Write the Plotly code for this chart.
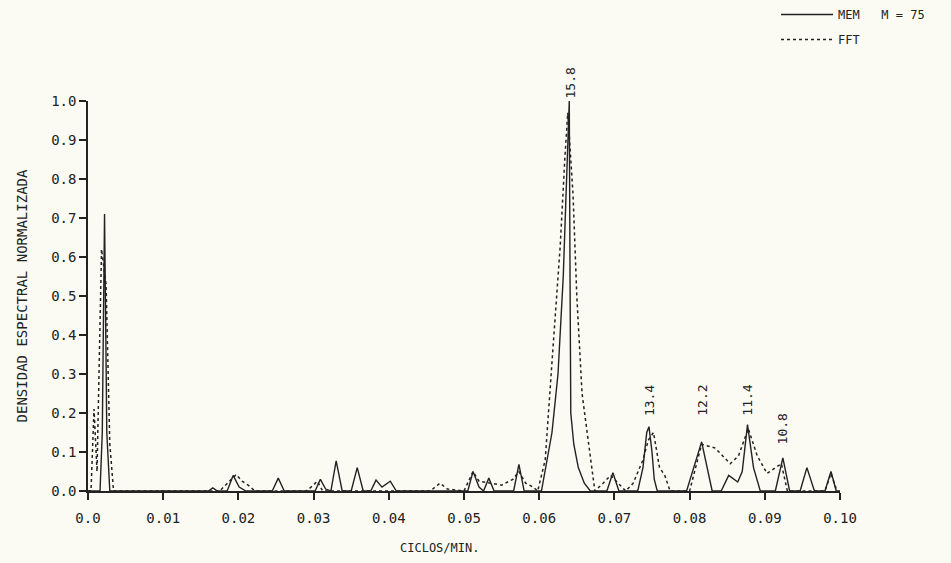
import plotly.graph_objects as go

# ---- data ----
mem_x = [0.0000, 0.0016, 0.0019, 0.0022, 0.0025, 0.0029,
         0.0160, 0.0166, 0.0172,
         0.0185, 0.0193, 0.0201, 0.0210,
         0.0245, 0.0253, 0.0261,
         0.0302, 0.0309, 0.0316, 0.0323, 0.0330, 0.0338, 0.0350, 0.0358, 0.0366,
         0.0376, 0.0383, 0.0391, 0.0402, 0.0410,
         0.0505, 0.0512, 0.0520, 0.0526, 0.0533, 0.0540,
         0.0566, 0.0573, 0.0580,
         0.0603, 0.0617, 0.0625, 0.0632, 0.0637, 0.0640, 0.0641, 0.0642, 0.0646, 0.0652, 0.0660, 0.0668,
         0.0690, 0.0698, 0.0706,
         0.0731, 0.0738, 0.0743, 0.0746, 0.0750, 0.0753, 0.0757,
         0.0796, 0.0816, 0.0830,
         0.0842, 0.0852, 0.0864, 0.0870, 0.0877, 0.0885, 0.0894,
         0.0914, 0.0924, 0.0933,
         0.0947, 0.0956, 0.0966,
         0.0980, 0.0988, 0.0995, 0.1000]
mem_y = [0.0, 0.0, 0.15, 0.71, 0.15, 0.0,
         0.0, 0.008, 0.0,
         0.0, 0.040, 0.010, 0.0,
         0.0, 0.033, 0.0,
         0.0, 0.030, 0.005, 0.0, 0.077, 0.0, 0.0, 0.060, 0.0,
         0.0, 0.028, 0.010, 0.025, 0.0,
         0.0, 0.050, 0.010, 0.0, 0.033, 0.0,
         0.0, 0.068, 0.0,
         0.0, 0.15, 0.30, 0.55, 0.80, 1.00, 0.55, 0.20, 0.12, 0.06, 0.02, 0.0,
         0.0, 0.047, 0.0,
         0.0, 0.06, 0.15, 0.165, 0.10, 0.03, 0.0,
         0.0, 0.126, 0.0,
         0.0, 0.040, 0.023, 0.05, 0.17, 0.06, 0.0,
         0.0, 0.085, 0.0,
         0.0, 0.060, 0.0,
         0.0, 0.050, 0.0, 0.0]

fft_x = [0.0000, 0.0004, 0.0008, 0.0012, 0.0018, 0.0024, 0.0029, 0.0034,
         0.0175, 0.0190, 0.0197, 0.0205, 0.0213, 0.0222,
         0.0290, 0.0298, 0.0305, 0.0312,
         0.0455, 0.0468, 0.0478,
         0.0500, 0.0512, 0.0520, 0.0550, 0.0565, 0.0573, 0.0582, 0.0592,
         0.0598, 0.0608, 0.0617, 0.0628, 0.0634, 0.0638, 0.0645, 0.0650, 0.0657, 0.0668, 0.0674,
         0.0685, 0.0695, 0.0705, 0.0715, 0.0725, 0.0738, 0.0745, 0.0752, 0.0760, 0.0767, 0.0774,
         0.0800, 0.0816, 0.0834, 0.0854, 0.0865, 0.0878, 0.0890, 0.0903, 0.0915, 0.0922, 0.0930,
         0.0980, 0.0988, 0.0996]
fft_y = [0.0, 0.0, 0.21, 0.05, 0.62, 0.53, 0.12, 0.0,
         0.0, 0.030, 0.042, 0.025, 0.015, 0.0,
         0.0, 0.012, 0.025, 0.0,
         0.0, 0.020, 0.005,
         0.0, 0.050, 0.025, 0.015, 0.030, 0.050, 0.020, 0.010,
         0.0, 0.08, 0.33, 0.63, 0.85, 0.97, 0.76, 0.50, 0.25, 0.08, 0.0,
         0.02, 0.04, 0.02, 0.0, 0.02, 0.08, 0.13, 0.15, 0.06, 0.04, 0.0,
         0.0, 0.12, 0.11, 0.07, 0.09, 0.16, 0.09, 0.045, 0.06, 0.07, 0.0,
         0.0, 0.045, 0.0]

peak_labels = ["15.8", "13.4", "12.2", "11.4", "10.8"]
peak_x = [0.0641, 0.0746, 0.0816, 0.0877, 0.0924]
label_y = [1.045, 0.233, 0.233, 0.233, 0.16]

x_ticks = [0.0, 0.01, 0.02, 0.03, 0.04, 0.05, 0.06, 0.07, 0.08, 0.09, 0.10]
x_ticktext = ["0.0", "0.01", "0.02", "0.03", "0.04", "0.05", "0.06", "0.07", "0.08", "0.09", "0.10"]
y_ticks = [0.0, 0.1, 0.2, 0.3, 0.4, 0.5, 0.6, 0.7, 0.8, 0.9, 1.0]
y_ticktext = ["0.0", "0.1", "0.2", "0.3", "0.4", "0.5", "0.6", "0.7", "0.8", "0.9", "1.0"]

INK = "#222222"
BG = "#fbfbf4"
MONO = "DejaVu Sans Mono"

fig = go.Figure()
fig.add_trace(go.Scatter(x=mem_x, y=mem_y, mode="lines", name="MEM   M = 75",
                         legendgroup="a",
                         line=dict(color=INK, width=1.4)))
fig.add_trace(go.Scatter(x=fft_x, y=fft_y, mode="lines", name="FFT",
                         legendgroup="b",
                         line=dict(color=INK, width=1.5, dash="3px,3px")))

for t, px, py in zip(peak_labels, peak_x, label_y):
    fig.add_annotation(x=px, xref="x", y=py, yref="paper", text=t, textangle=-90,
                       showarrow=False,
                       font=dict(family=MONO, size=13, color=INK),
                       xanchor="center", yanchor="middle")

# x-axis title (placed slightly left of centre, as in the original)
fig.add_annotation(xref="paper", yref="paper", x=0.468, y=0, yshift=-57,
                   text="CICLOS/MIN.", showarrow=False,
                   font=dict(family=MONO, size=12, color=INK),
                   xanchor="center", yanchor="middle")

fig.update_layout(
    width=951, height=563,
    paper_bgcolor=BG, plot_bgcolor=BG,
    margin=dict(l=88, r=111, t=101, b=72, autoexpand=False),
    font=dict(family=MONO, color=INK),
    showlegend=True,
    legend=dict(xref="container", yref="container", x=776 / 951, y=1.0,
                xanchor="left", yanchor="top", bgcolor="rgba(0,0,0,0)",
                font=dict(family=MONO, size=12, color=INK),
                itemwidth=52, tracegroupgap=6),
    xaxis=dict(range=[0, 0.1], tickmode="array", tickvals=x_ticks, ticktext=x_ticktext,
               showgrid=False, zeroline=False, showline=True, linecolor=INK, linewidth=1.5,
               ticks="outside", ticklen=7, tickwidth=1.5, tickcolor=INK,
               ticklabelstandoff=6,
               tickfont=dict(family=MONO, size=14, color=INK)),
    yaxis=dict(range=[0, 1.0], tickmode="array", tickvals=y_ticks, ticktext=y_ticktext,
               showgrid=False, zeroline=False, showline=True, linecolor=INK, linewidth=1.5,
               ticks="outside", ticklen=7, tickwidth=1.5, tickcolor=INK,
               tickfont=dict(family=MONO, size=14, color=INK),
               title=dict(text="DENSIDAD ESPECTRAL NORMALIZADA",
                          font=dict(family=MONO, size=14, color=INK), standoff=20)),
)

fig.write_html("out.html",
               config={"displayModeBar": False},
               post_script="document.body.style.margin='0';"
                           "document.body.style.background='" + BG + "';")
